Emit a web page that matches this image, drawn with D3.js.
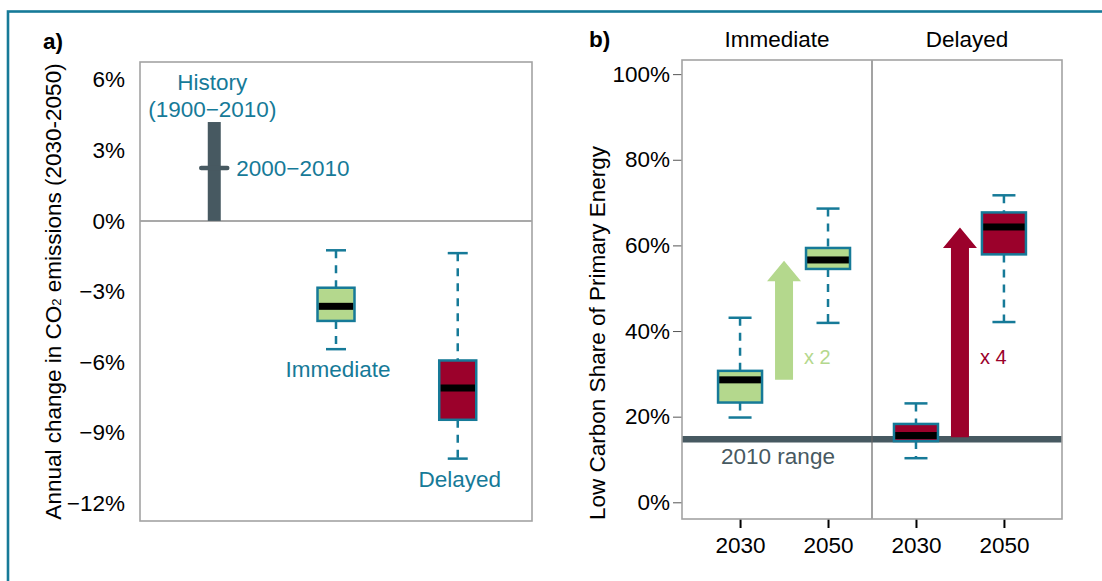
<!DOCTYPE html>
<head>
  <meta charset="utf-8">
  <script src="https://cdn.jsdelivr.net/npm/d3@7"></script>
  <style>
    body { margin:0; background:#fff; }
    svg { font-family: "Liberation Sans", Arial, sans-serif; }
    .tick text { font-size: 22.5px; fill: #000; }
  </style>
</head>
<body>
<svg width="1102" height="581"></svg>

<script>
  // ---- data ----
  // panel a: annual change in CO2 emissions (%)
  var emisCats   = ["History", "Immediate", "Delayed"];
  var histRange  = [0, 4.2];          // 1900-2010
  var histRecent = 2.25;              // 2000-2010
  var emisScen   = ["Immediate", "Delayed"];
  var emisLow    = [-5.45, -10.1];
  var emisQ1     = [-4.25, -8.45];
  var emisMed    = [-3.63, -7.1];
  var emisQ3     = [-2.84, -5.93];
  var emisHigh   = [-1.25, -1.37];
  var emisTicks  = [6, 3, 0, -3, -6, -9, -12];

  // panel b: low carbon share of primary energy (%)
  var shareKeys  = ["Immediate 2030", "Immediate 2050", "Delayed 2030", "Delayed 2050"];
  var shareYears = ["2030", "2050", "2030", "2050"];
  var shareScen  = ["Immediate", "Immediate", "Delayed", "Delayed"];
  var shareLow   = [19.8, 41.9, 10.3, 42.1];
  var shareQ1    = [23.3, 54.5, 14.3, 57.9];
  var shareMed   = [28.6, 56.6, 15.6, 64.3];
  var shareQ3    = [30.7, 59.4, 18.3, 67.7];
  var shareHigh  = [43.1, 68.6, 23.1, 71.7];
  var shareTicks = [0, 20, 40, 60, 80, 100];
  var facets     = ["Immediate", "Delayed"];
  var share2010  = 14.7;
  var arrowFrom  = [28.6, 15.2];
  var arrowTo    = [56.4, 64.2];
  var arrowText  = ["x 2", "x 4"];

  var teal  = "#167a98";
  var slate = "#475961";
  var green = "#b4d88d";
  var red   = "#9b012b";
  var scenColor = { Immediate: green, Delayed: red };
  var fs = 22.5;

  var svg = d3.select("svg");
  var fmt = d3.format("d");

  // outer frame
  svg.append("rect")
    .attr("x", 8).attr("y", 11.5).attr("width", 1200).attr("height", 700)
    .attr("fill", "none").attr("stroke", teal).attr("stroke-width", 2.6);

  function drawBox(g, x, w, capW, lo, q1, med, q3, hi, fill) {
    g.append("line").attr("x1", x).attr("x2", x).attr("y1", hi).attr("y2", q3)
      .attr("stroke", teal).attr("stroke-width", 2.5).attr("stroke-dasharray", "8,7");
    g.append("line").attr("x1", x).attr("x2", x).attr("y1", q1).attr("y2", lo)
      .attr("stroke", teal).attr("stroke-width", 2.5).attr("stroke-dasharray", "8,7");
    [hi, lo].forEach(function(v) {
      g.append("line").attr("x1", x - capW/2).attr("x2", x + capW/2).attr("y1", v).attr("y2", v)
        .attr("stroke", teal).attr("stroke-width", 2.5);
    });
    g.append("rect").attr("x", x - w/2).attr("y", q3).attr("width", w).attr("height", q1 - q3)
      .attr("fill", fill);
    g.append("rect").attr("x", x - w/2 + 1).attr("y", med - 3.5).attr("width", w - 2).attr("height", 7)
      .attr("fill", "#000");
    g.append("rect").attr("x", x - w/2).attr("y", q3).attr("width", w).attr("height", q1 - q3)
      .attr("fill", "none").attr("stroke", teal).attr("stroke-width", 2.5);
  }

  // ================= panel a =================
  var aL = 140, aR = 532, aT = 62, aB = 521;
  var xA = d3.scalePoint().domain(emisCats).range([aL, aR]).padding(0.61);
  var yA = d3.scaleLinear().domain([-12.75, 6.75]).range([aB, aT]);
  var ga = svg.append("g");

  ga.append("text").attr("x", 43).attr("y", 49).attr("font-size", fs).attr("font-weight", "bold").text("a)");

  ga.append("g").attr("transform", "translate(" + aL + ",0)")
    .call(d3.axisLeft(yA).tickValues(emisTicks).tickSize(0).tickPadding(15)
      .tickFormat(function(d) { return fmt(d) + "%"; }))
    .call(function(g) { g.select(".domain").remove(); });

  ga.append("text")
    .attr("transform", "translate(61," + ((aT + aB) / 2) + ") rotate(-90)")
    .attr("text-anchor", "middle").attr("font-size", fs)
    .text("Annual change in CO")
    .append("tspan").attr("font-size", 13).text("2")
    .append("tspan").attr("font-size", fs).text(" emissions (2030-2050)");

  ga.append("line").attr("x1", aL).attr("x2", aR).attr("y1", yA(0)).attr("y2", yA(0))
    .attr("stroke", "#8c8c8c").attr("stroke-width", 1.5);

  ga.append("rect").attr("x", aL).attr("y", aT).attr("width", aR - aL).attr("height", aB - aT)
    .attr("fill", "none").attr("stroke", "#a3a3a3").attr("stroke-width", 1.6);

  // history bar
  var hx = xA("History");
  ga.append("rect").attr("x", hx - 6.5).attr("y", yA(histRange[1])).attr("width", 13)
    .attr("height", yA(histRange[0]) - yA(histRange[1])).attr("fill", slate);
  ga.append("line").attr("x1", hx - 13).attr("x2", hx + 13)
    .attr("y1", yA(histRecent)).attr("y2", yA(histRecent))
    .attr("stroke", slate).attr("stroke-width", 4.5).attr("stroke-linecap", "round");
  ga.append("text").attr("x", hx + 22).attr("y", yA(histRecent) + 8)
    .attr("fill", teal).attr("font-size", fs).text("2000\u22122010");
  ga.append("text").attr("x", hx - 2).attr("y", 90).attr("text-anchor", "middle")
    .attr("fill", teal).attr("font-size", fs).text("History");
  ga.append("text").attr("x", hx - 2).attr("y", 116.5).attr("text-anchor", "middle")
    .attr("fill", teal).attr("font-size", fs).text("(1900\u22122010)");

  emisScen.forEach(function(s, i) {
    var x = xA(s);
    drawBox(ga, x, 37, 20, yA(emisLow[i]), yA(emisQ1[i]), yA(emisMed[i]), yA(emisQ3[i]), yA(emisHigh[i]), scenColor[s]);
    ga.append("text").attr("x", x + 2).attr("y", yA(emisLow[i]) + 28).attr("text-anchor", "middle")
      .attr("fill", teal).attr("font-size", fs).text(s);
  });

  // ================= panel b =================
  var bL = 682, bR = 1062, bT = 60, bB = 519;
  var xB = d3.scalePoint().domain(shareKeys).range([bL, bR]).padding(0.66);
  var yB = d3.scaleLinear().domain([-3.9, 103.3]).range([bB, bT]);
  var gb = svg.append("g");
  var mid = (xB(shareKeys[1]) + xB(shareKeys[2])) / 2;

  gb.append("text").attr("x", 589).attr("y", 47).attr("font-size", fs).attr("font-weight", "bold").text("b)");

  facets.forEach(function(f, i) {
    var cx = i === 0 ? (bL + mid) / 2 : (mid + bR) / 2;
    gb.append("text").attr("x", cx).attr("y", 47).attr("text-anchor", "middle")
      .attr("font-size", fs).text(f);
  });

  gb.append("g").attr("transform", "translate(" + bL + ",0)")
    .call(d3.axisLeft(yB).tickValues(shareTicks).tickSize(9).tickPadding(3)
      .tickFormat(function(d) { return d + "%"; }))
    .call(function(g) {
      g.select(".domain").remove();
      g.selectAll(".tick line").attr("stroke", "#555");
    });

  gb.append("g").attr("transform", "translate(0," + bB + ")")
    .call(d3.axisBottom(xB).tickSize(9).tickPadding(9)
      .tickFormat(function(d, i) { return shareYears[i]; }))
    .call(function(g) {
      g.select(".domain").remove();
      g.selectAll(".tick line").attr("stroke", "#000").attr("stroke-width", 2);
    });

  gb.append("text")
    .attr("transform", "translate(605,333) rotate(-90)")
    .attr("text-anchor", "middle").attr("font-size", fs)
    .text("Low Carbon Share of Primary Energy");

  // 2010 range
  gb.append("line").attr("x1", bL).attr("x2", bR).attr("y1", yB(share2010)).attr("y2", yB(share2010))
    .attr("stroke", slate).attr("stroke-width", 6.5);
  gb.append("text").attr("x", (bL + mid) / 2 + 1).attr("y", yB(share2010) + 25).attr("text-anchor", "middle")
    .attr("fill", slate).attr("font-size", fs).text("2010 range");

  shareKeys.forEach(function(k, i) {
    drawBox(gb, xB(k), 44, 23, yB(shareLow[i]), yB(shareQ1[i]), yB(shareMed[i]), yB(shareQ3[i]), yB(shareHigh[i]), scenColor[shareScen[i]]);
  });

  // arrows
  facets.forEach(function(f, i) {
    var x = (xB(shareKeys[2*i]) + xB(shareKeys[2*i + 1])) / 2;
    var y0 = yB(arrowFrom[i]), y1 = yB(arrowTo[i]), hl = 20.5;
    var pts = [[x - 9, y0], [x - 9, y1 + hl], [x - 17, y1 + hl], [x, y1],
               [x + 17, y1 + hl], [x + 9, y1 + hl], [x + 9, y0]];
    gb.append("path").attr("d", d3.line()(pts) + "Z").attr("fill", scenColor[f]);
    gb.append("text").attr("x", x + 20).attr("y", 364).attr("font-size", 20)
      .attr("fill", scenColor[f]).text(arrowText[i]);
  });

  gb.append("line").attr("x1", mid).attr("x2", mid).attr("y1", bT).attr("y2", bB)
    .attr("stroke", "#666").attr("stroke-width", 1.2);
  gb.append("rect").attr("x", bL).attr("y", bT).attr("width", bR - bL).attr("height", bB - bT)
    .attr("fill", "none").attr("stroke", "#a3a3a3").attr("stroke-width", 1.6);
</script>
</body>
